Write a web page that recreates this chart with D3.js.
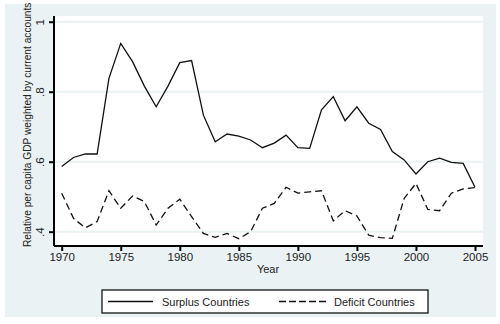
<!DOCTYPE html>
<html>
<head>
<meta charset="utf-8">
<script src="https://cdn.jsdelivr.net/npm/d3@7"></script>
<style>
  html, body { margin: 0; padding: 0; background: #ffffff; }
  svg { display: block; font-family: "Liberation Sans", Arial, sans-serif; }
</style>
</head>
<body>
<svg id="chart" width="500" height="324"></svg>
<script>
// Relative per capita GDP, weighted by current accounts, 1970-2005
const years = d3.range(1970, 2006);
const surplus = [
  0.586, 0.612, 0.622, 0.622, 0.838, 0.938, 0.886, 0.816, 0.757, 0.816,
  0.883, 0.889, 0.733, 0.657, 0.679, 0.673, 0.662, 0.640, 0.653, 0.676,
  0.640, 0.638, 0.748, 0.786, 0.717, 0.757, 0.710, 0.692, 0.629, 0.605,
  0.565, 0.600, 0.610, 0.598, 0.595, 0.527
];
const deficit = [
  0.510, 0.438, 0.411, 0.429, 0.517, 0.467, 0.502, 0.486, 0.419, 0.467,
  0.493, 0.443, 0.395, 0.384, 0.395, 0.380, 0.400, 0.467, 0.481, 0.527,
  0.510, 0.514, 0.517, 0.431, 0.460, 0.445, 0.390, 0.383, 0.381, 0.495,
  0.538, 0.464, 0.460, 0.510, 0.522, 0.526
];
const yTicks = [0.4, 0.6, 0.8, 1];
const yTickLabels = [".4", ".6", ".8", "1"];
const xTicks = [1970, 1975, 1980, 1985, 1990, 1995, 2000, 2005];
const seriesNames = ["Surplus Countries", "Deficit Countries"];

const svg = d3.select("#chart");
const bg = "#eaf2f3";

// outer graph region
svg.append("rect").attr("x", 5).attr("y", 4).attr("width", 491).attr("height", 313).attr("fill", bg);

const plot = { left: 54, right: 483, top: 16, bottom: 246 };
svg.append("rect")
  .attr("x", plot.left).attr("y", plot.top)
  .attr("width", plot.right - plot.left).attr("height", plot.bottom - plot.top)
  .attr("fill", "#ffffff");

const x = d3.scaleLinear().domain([1970, 2005]).range([61.7, 475]);
const y = d3.scaleLinear().domain([0.4, 1]).range([231.7, 21.7]);

// horizontal grid lines
svg.append("g").selectAll("line").data(yTicks).join("line")
  .attr("x1", plot.left).attr("x2", plot.right)
  .attr("y1", d => y(d)).attr("y2", d => y(d))
  .attr("stroke", bg).attr("stroke-width", 2);

// y axis, labels rotated
const yAxis = svg.append("g").attr("transform", `translate(${plot.left},0)`)
  .call(d3.axisLeft(y).tickValues(yTicks).tickSize(5)
    .tickFormat((d, i) => yTickLabels[i]));
yAxis.select(".domain").attr("d", `M0,${plot.top}V${plot.bottom}`).attr("stroke", "#000").attr("stroke-width", 2);
yAxis.selectAll(".tick line").attr("stroke", "#000").attr("stroke-width", 2);
yAxis.selectAll(".tick text")
  .attr("font-size", 11.5).attr("fill", "#222")
  .attr("text-anchor", "middle").attr("dy", 0)
  .attr("transform", "rotate(-90)").attr("x", 0).attr("y", -10);

// x axis
const xAxis = svg.append("g").attr("transform", `translate(0,${plot.bottom})`)
  .call(d3.axisBottom(x).tickValues(xTicks).tickSize(5).tickPadding(2).tickFormat(d3.format("d")));
xAxis.select(".domain").attr("d", `M${plot.left},0H${plot.right}`).attr("stroke", "#000").attr("stroke-width", 2);
xAxis.selectAll(".tick line").attr("stroke", "#000").attr("stroke-width", 2);
xAxis.selectAll(".tick text").attr("font-size", 11.5).attr("fill", "#222");

// axis titles
svg.append("text").attr("x", 268).attr("y", 273).attr("text-anchor", "middle")
  .attr("font-size", 11).attr("fill", "#222").text("Year");
svg.append("text")
  .attr("transform", "translate(31,247) rotate(-90)")
  .attr("text-anchor", "start").attr("font-size", 10.2).attr("fill", "#222")
  .text("Relative per capita GDP weighted by current accounts");

// series lines
const line = d3.line().x((d, i) => x(years[i])).y(d => y(d));
svg.append("path").datum(surplus).attr("d", line)
  .attr("fill", "none").attr("stroke", "#111").attr("stroke-width", 1.3);
svg.append("path").datum(deficit).attr("d", line)
  .attr("fill", "none").attr("stroke", "#111").attr("stroke-width", 1.3)
  .attr("stroke-dasharray", "7,4");

// legend
const lg = svg.append("g");
lg.append("rect").attr("x", 102).attr("y", 290).attr("width", 326).attr("height", 23)
  .attr("fill", "#fff").attr("stroke", "#000").attr("stroke-width", 1.2);
lg.append("line").attr("x1", 108).attr("x2", 153).attr("y1", 301.5).attr("y2", 301.5)
  .attr("stroke", "#111").attr("stroke-width", 1.5);
lg.append("text").attr("x", 162).attr("y", 305.5).attr("font-size", 11).attr("fill", "#222").text(seriesNames[0]);
lg.append("line").attr("x1", 279).attr("x2", 327).attr("y1", 301.5).attr("y2", 301.5)
  .attr("stroke", "#111").attr("stroke-width", 1.5).attr("stroke-dasharray", "7,3");
lg.append("text").attr("x", 334).attr("y", 305.5).attr("font-size", 11).attr("fill", "#222").text(seriesNames[1]);
</script>
</body>
</html>
